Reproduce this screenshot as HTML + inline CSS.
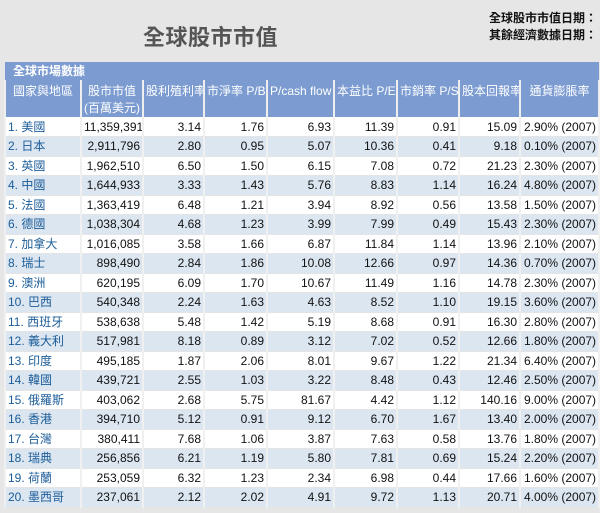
<!DOCTYPE html>
<html><head><meta charset="utf-8"><style>
body{margin:0;width:600px;height:513px;background:#e6e6e6;font-family:"Liberation Sans","Noto Sans CJK TC",sans-serif;overflow:hidden;position:relative}
#title{position:absolute;left:143px;top:20px;font-size:22px;font-weight:bold;color:#555;letter-spacing:0.5px}
#dates{position:absolute;left:489px;top:10px;font-size:12px;line-height:17px;font-weight:bold;color:#111;text-align:left}
table{position:absolute;left:4px;top:62px;width:594px;border-collapse:collapse;table-layout:fixed;font-size:12px}
td,th{border-left:2px solid #f0f0f0;border-right:2px solid #f0f0f0;padding:0 2px;white-space:nowrap;overflow:hidden;box-sizing:border-box}
.cap td{background:#7b9bd1;color:#fff;font-weight:bold;height:18px;line-height:18px;padding-left:8px;font-size:12px;border:none}
.hd th{background:#7b9bd1;color:#fff;font-weight:normal;height:37px;vertical-align:top;padding-top:3px;font-size:12px;line-height:17px;border-color:#eee}
tr.r td{height:19.5px;line-height:18px;border-bottom:1px solid #e4e4e4;text-align:right;color:#111}
tr.r:nth-child(odd) td{background:#fff}
tr.r:nth-child(even) td{background:#dbe6f1}
tr.r td.c{text-align:left;color:#1b5c98}
</style></head><body>
<div id="title">全球股市市值</div>
<div id="dates"><div>全球股市市值日期：</div><div>其餘經濟數據日期：</div></div>
<table>
<colgroup><col style="width:76px"><col style="width:62px"><col style="width:61px"><col style="width:63px"><col style="width:67px"><col style="width:63px"><col style="width:62px"><col style="width:61px"><col style="width:79px"></colgroup>
<tbody id="tb">
<tr class="cap"><td colspan="9">全球市場數據</td></tr>
<tr class="hd"><th>國家與地區</th><th>股市市值<br>(百萬美元)</th><th>股利殖利率</th><th>市淨率 P/B</th><th>P/cash flow</th><th>本益比 P/E</th><th>市銷率 P/S</th><th>股本回報率</th><th>通貨膨脹率</th></tr>
</tbody></table>
<script>
const countries=["美國","日本","英國","中國","法國","德國","加拿大","瑞士","澳洲","巴西","西班牙","義大利","印度","韓國","俄羅斯","香港","台灣","瑞典","荷蘭","墨西哥"];
const mktCap=["11,359,391","2,911,796","1,962,510","1,644,933","1,363,419","1,038,304","1,016,085","898,490","620,195","540,348","538,638","517,981","495,185","439,721","403,062","394,710","380,411","256,856","253,059","237,061"];
const divYield=[3.14,2.80,6.50,3.33,6.48,4.68,3.58,2.84,6.09,2.24,5.48,8.18,1.87,2.55,2.68,5.12,7.68,6.21,6.32,2.12];
const pb=[1.76,0.95,1.50,1.43,1.21,1.23,1.66,1.86,1.70,1.63,1.42,0.89,2.06,1.03,5.75,0.91,1.06,1.19,1.23,2.02];
const pcf=[6.93,5.07,6.15,5.76,3.94,3.99,6.87,10.08,10.67,4.63,5.19,3.12,8.01,3.22,81.67,9.12,3.87,5.80,2.34,4.91];
const pe=[11.39,10.36,7.08,8.83,8.92,7.99,11.84,12.66,11.49,8.52,8.68,7.02,9.67,8.48,4.42,6.70,7.63,7.81,6.98,9.72];
const ps=[0.91,0.41,0.72,1.14,0.56,0.49,1.14,0.97,1.16,1.10,0.91,0.52,1.22,0.43,1.12,1.67,0.58,0.69,0.44,1.13];
const roe=[15.09,9.18,21.23,16.24,13.58,15.43,13.96,14.36,14.78,19.15,16.30,12.66,21.34,12.46,140.16,13.40,13.76,15.24,17.66,20.71];
const infl=["2.90%","0.10%","2.30%","4.80%","1.50%","2.30%","2.10%","0.70%","2.30%","3.60%","2.80%","1.80%","6.40%","2.50%","9.00%","2.00%","1.80%","2.20%","1.60%","4.00%"];
const tb=document.getElementById('tb');
countries.forEach((c,i)=>{
  const tr=document.createElement('tr');
  tr.className='r';
  
  
  const vals=[(i+1)+'. '+c,mktCap[i],divYield[i].toFixed(2),pb[i].toFixed(2),pcf[i].toFixed(2),pe[i].toFixed(2),ps[i].toFixed(2),roe[i].toFixed(2),infl[i]+' (2007)'];
  vals.forEach((v,j)=>{
    const td=document.createElement('td');
    td.textContent=v;
    if(j===0)td.className='c';
    
    
    tr.appendChild(td);
  });
  tb.appendChild(tr);
});
</script>
</body></html>
